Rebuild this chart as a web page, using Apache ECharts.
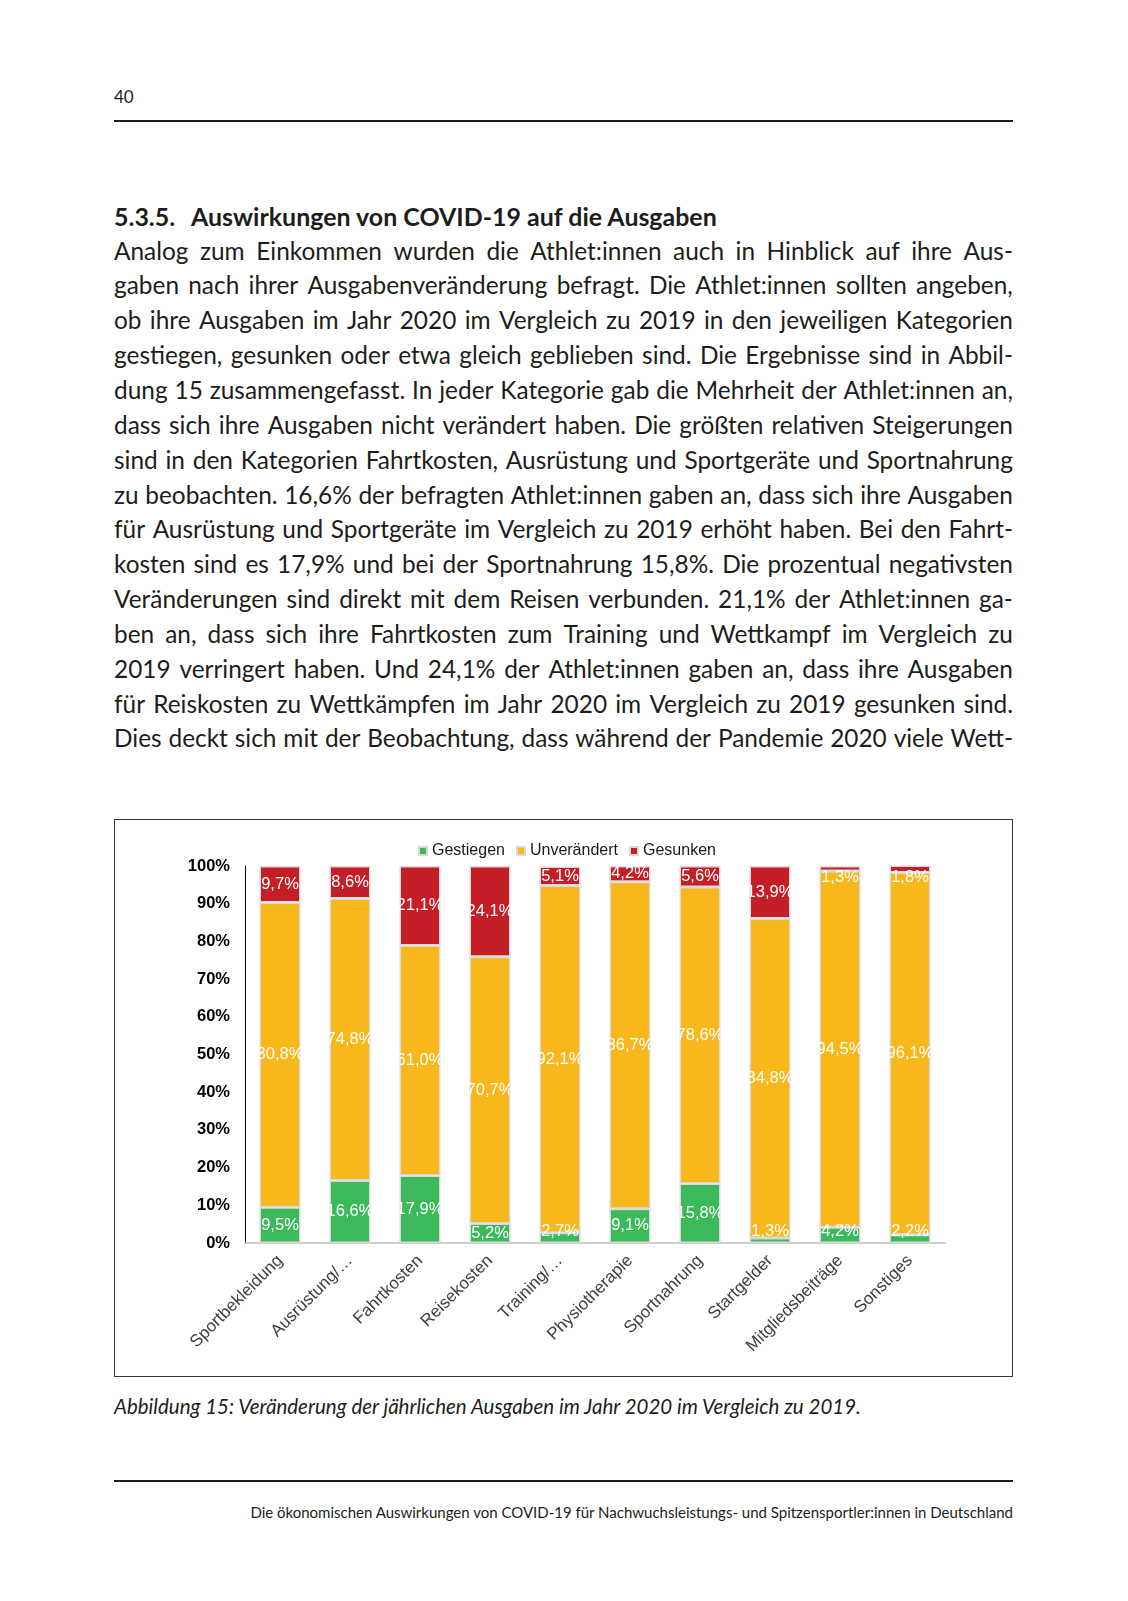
<!DOCTYPE html>
<html>
<head>
<meta charset="utf-8">
<script src="https://cdn.jsdelivr.net/npm/echarts@6/dist/echarts.min.js"></script>
<style>
  html, body { margin:0; padding:0; background:#fff; }
  #page { position:relative; width:1128px; height:1601px; background:#fff; overflow:hidden;
          font-family: Lato, "Noto Sans", sans-serif; color:#1d1d1b; }
  .abs { position:absolute; white-space:nowrap; }
  .rule { position:absolute; left:114px; width:899px; height:2px; background:#1d1d1b; }
  .line { position:absolute; left:114px; width:899px; display:flex; justify-content:space-between; white-space:nowrap; }
  #frame { position:absolute; left:114px; top:819px; width:899px; height:558px; border:1px solid #3a3a3a; box-sizing:border-box; }
  #chart { position:absolute; left:114px; top:819px; width:899px; height:558px; }
</style>
</head>
<body>
<div id="page">
  <div class="abs" id="pnum" style="left:114px; top:85px; font-size:17px; line-height:24px;">40</div>
  <div class="rule" style="top:120px;"></div>
  <div class="abs" id="hnum" style="left:114px; top:199px; font-weight:700; line-height:34px;">5.3.5.</div>
  <div class="abs" id="htitle" style="left:191px; top:199px; font-weight:700; line-height:34px;">Auswirkungen von COVID-19 auf die Ausgaben</div>
  <div id="body"></div>
  <div id="frame"></div>
  <div id="chart"></div>
  <div class="abs" id="caption" style="left:114px; top:1392px; font-style:italic; line-height:28px;">Abbildung 15: Veränderung der jährlichen Ausgaben im Jahr 2020 im Vergleich zu 2019.</div>
  <div class="rule" style="top:1480px;"></div>
  <div class="abs" id="footer" style="right:115px; top:1500px; line-height:24px;">Die ökonomischen Auswirkungen von COVID-19 für Nachwuchsleistungs- und Spitzensportler:innen in Deutschland</div>
</div>
<script>
// ---------- DATA ----------
const categories = ['Sportbekleidung', 'Ausrüstung/…', 'Fahrtkosten', 'Reisekosten', 'Training/…',
                    'Physiotherapie', 'Sportnahrung', 'Startgelder', 'Mitgliedsbeiträge', 'Sonstiges'];
const seriesNames = ['Gestiegen', 'Unverändert', 'Gesunken'];
const gestiegen   = [9.5, 16.6, 17.9, 5.2, 2.7, 9.1, 15.8, 1.3, 4.2, 2.2];
const unveraendert = [80.8, 74.8, 61.0, 70.7, 92.1, 86.7, 78.6, 84.8, 94.5, 96.1];
const gesunken    = [9.7, 8.6, 21.1, 24.1, 5.1, 4.2, 5.6, 13.9, 1.3, 1.8];
const yTickValues = [0, 10, 20, 30, 40, 50, 60, 70, 80, 90, 100];

const bodyLines = [
  'Analog zum Einkommen wurden die Athlet:innen auch in Hinblick auf ihre Aus-',
  'gaben nach ihrer Ausgabenveränderung befragt. Die Athlet:innen sollten angeben,',
  'ob ihre Ausgaben im Jahr 2020 im Vergleich zu 2019 in den jeweiligen Kategorien',
  'gestiegen, gesunken oder etwa gleich geblieben sind. Die Ergebnisse sind in Abbil-',
  'dung 15 zusammengefasst. In jeder Kategorie gab die Mehrheit der Athlet:innen an,',
  'dass sich ihre Ausgaben nicht verändert haben. Die größten relativen Steigerungen',
  'sind in den Kategorien Fahrtkosten, Ausrüstung und Sportgeräte und Sportnahrung',
  'zu beobachten. 16,6% der befragten Athlet:innen gaben an, dass sich ihre Ausgaben',
  'für Ausrüstung und Sportgeräte im Vergleich zu 2019 erhöht haben. Bei den Fahrt-',
  'kosten sind es 17,9% und bei der Sportnahrung 15,8%. Die prozentual negativsten',
  'Veränderungen sind direkt mit dem Reisen verbunden. 21,1% der Athlet:innen ga-',
  'ben an, dass sich ihre Fahrtkosten zum Training und Wettkampf im Vergleich zu',
  '2019 verringert haben. Und 24,1% der Athlet:innen gaben an, dass ihre Ausgaben',
  'für Reiskosten zu Wettkämpfen im Jahr 2020 im Vergleich zu 2019 gesunken sind.',
  'Dies deckt sich mit der Beobachtung, dass während der Pandemie 2020 viele Wett-'
];

// ---------- PAGE TEXT ----------
function fitWidth(el, target) {
  el.style.fontSize = '20px';
  const w = el.getBoundingClientRect().width;
  el.style.fontSize = (20 * target / w) + 'px';
}
fitWidth(document.getElementById('htitle'), 526);
document.getElementById('hnum').style.fontSize = document.getElementById('htitle').style.fontSize;
fitWidth(document.getElementById('caption'), 747);
fitWidth(document.getElementById('footer'), 763);

(function buildBody() {
  const body = document.getElementById('body');
  const lineH = 34.85, firstCenter = 251;
  const probe = document.createElement('span');
  probe.style.cssText = 'position:absolute;visibility:hidden;white-space:nowrap;font-size:24px;';
  document.getElementById('page').appendChild(probe);
  let maxW = 0;
  bodyLines.forEach(t => { probe.textContent = t; maxW = Math.max(maxW, probe.getBoundingClientRect().width); });
  probe.remove();
  const fs = Math.min(25, 24 * 893 / maxW);
  bodyLines.forEach((t, i) => {
    const d = document.createElement('div');
    d.className = 'line';
    d.style.top = (firstCenter + i * lineH - lineH / 2) + 'px';
    d.style.height = lineH + 'px';
    d.style.lineHeight = lineH + 'px';
    d.style.fontSize = fs + 'px';
    t.split(' ').forEach(w => { const s = document.createElement('span'); s.textContent = w; d.appendChild(s); });
    body.appendChild(d);
  });
})();

// ---------- CHART ----------
const FONT = 'Arial, "Liberation Sans", sans-serif';
const colors = ['#3cb95a', '#f8b81b', '#c41e26'];
const fmt = v => v.toFixed(1).replace('.', ',') + '%';

function labelFor(seriesIdx, v) {
  const base = { show: true, color: '#fff', fontFamily: FONT, fontSize: 16.5, formatter: p => fmt(p.value) };
  if (seriesIdx === 0 && v < 5) return Object.assign(base, { position: 'insideBottom', distance: 3 });
  if (seriesIdx === 2 && v < 3) return Object.assign(base, { position: 'insideTop', distance: 3 });
  return Object.assign(base, { position: 'inside' });
}

const allValues = [gestiegen, unveraendert, gesunken];
const chart = echarts.init(document.getElementById('chart'), null, { renderer: 'canvas' });
chart.setOption({
  animation: false,
  backgroundColor: 'transparent',
  legend: {
    data: seriesNames,
    left: 299, top: 19,
    icon: 'rect', itemWidth: 8, itemHeight: 8, itemGap: 11,
    textStyle: { fontFamily: FONT, fontSize: 16, color: '#1a1a1a' }
  },
  grid: { left: 131, top: 47, width: 700, height: 377, containLabel: false },
  xAxis: {
    type: 'category',
    data: categories,
    axisLine: { show: true, lineStyle: { color: '#bfbfbf', width: 1.5 } },
    axisTick: { show: false },
    axisLabel: { rotate: 45, margin: 15, interval: 0, color: '#404040', fontFamily: FONT, fontSize: 17 }
  },
  yAxis: {
    type: 'value',
    min: 0, max: 100, interval: 10,
    axisLine: { show: true, lineStyle: { color: '#000', width: 1 } },
    axisTick: { show: false },
    splitLine: { show: false },
    axisLabel: {
      margin: 15, color: '#000', fontFamily: FONT, fontSize: 16.5, fontWeight: 'bold',
      formatter: v => (yTickValues.indexOf(v) >= 0 ? v + '%' : '')
    }
  },
  series: allValues.map((vals, si) => ({
    name: seriesNames[si],
    type: 'bar',
    stack: 'total',
    barWidth: 41,
    itemStyle: { color: colors[si], borderColor: '#d9d9d9', borderWidth: 1.5 },
    data: vals.map(v => ({ value: v, label: labelFor(si, v) }))
  }))
});
</script>
</body>
</html>
